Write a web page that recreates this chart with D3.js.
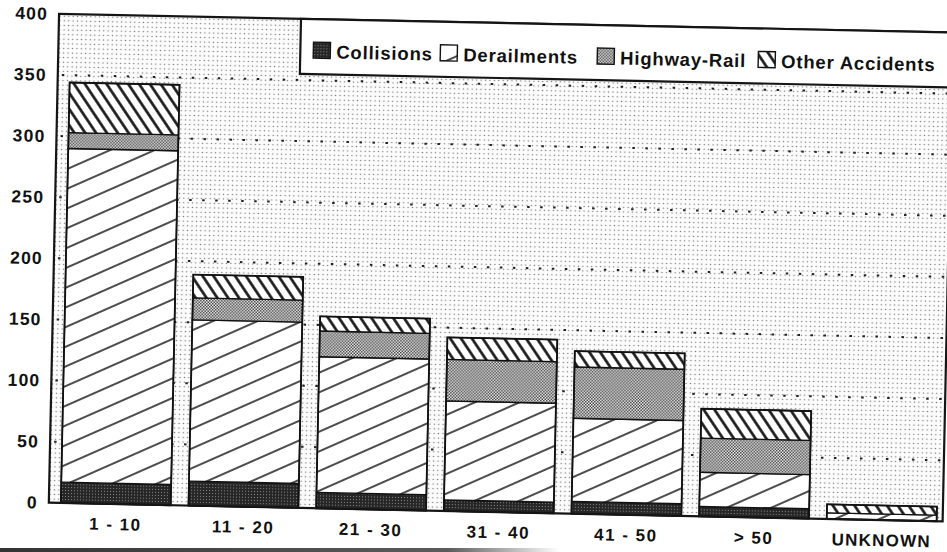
<!DOCTYPE html>
<html>
<head>
<meta charset="utf-8">
<script src="https://cdn.jsdelivr.net/npm/d3@7"></script>
<style>
  html, body { margin: 0; padding: 0; background: #fff; }
  svg { display: block; }
  text { font-family: "Liberation Sans", Arial, Helvetica, sans-serif; font-weight: bold; fill: #111; }
</style>
</head>
<body>
<svg id="chart" width="947" height="552"></svg>
<script>
// Accidents by train length (cars), stacked by accident type
const categories = ["1 - 10", "11 - 20", "21 - 30", "31 - 40", "41 - 50", "> 50", "UNKNOWN"];
const collisions     = [17, 20, 13,  9, 10,  8, 0];
const derailments    = [273, 132, 111, 81, 68, 28, 5];
const highwayRail    = [13, 18, 21, 34, 42, 28, 0];
const otherAccidents = [41, 19, 12, 18, 13, 24, 7];
const seriesNames = ["Collisions", "Derailments", "Highway-Rail", "Other Accidents"];
const yTicks = [0, 50, 100, 150, 200, 250, 300, 350, 400];
const gridTicks = [50, 100, 150, 200, 250, 300, 350];

const table = categories.map((c, i) => ({
  category: c,
  "Collisions": collisions[i],
  "Derailments": derailments[i],
  "Highway-Rail": highwayRail[i],
  "Other Accidents": otherAccidents[i]
}));

const frame = { left: 54, right: 948, top: 23, bottom: 512 };
const svg = d3.select("#chart");
const defs = svg.append("defs");

// ---- fill patterns ----
function hatch(id, spacing, angle, width) {
  const p = defs.append("pattern")
    .attr("id", id)
    .attr("patternUnits", "userSpaceOnUse")
    .attr("width", spacing).attr("height", spacing)
    .attr("patternTransform", `rotate(${angle})`);
  p.append("rect").attr("width", spacing).attr("height", spacing).attr("fill", "#fff");
  p.append("line")
    .attr("x1", -1).attr("x2", spacing + 1)
    .attr("y1", spacing / 2).attr("y2", spacing / 2)
    .attr("stroke", "#111").attr("stroke-width", width);
}
hatch("pat-derail", 18, -25, 1.5);
hatch("pat-other", 9, 55, 2.6);

// dense dark screen for collisions
(function () {
  const p = defs.append("pattern").attr("id", "pat-coll")
    .attr("patternUnits", "userSpaceOnUse").attr("width", 3).attr("height", 3);
  p.append("rect").attr("width", 3).attr("height", 3).attr("fill", "#262626");
  p.append("rect").attr("x", 1).attr("y", 1).attr("width", 1).attr("height", 1).attr("fill", "#8a8a8a");
})();

// medium checker screen for highway-rail
(function () {
  const p = defs.append("pattern").attr("id", "pat-hwy")
    .attr("patternUnits", "userSpaceOnUse").attr("width", 3).attr("height", 3);
  p.append("rect").attr("width", 3).attr("height", 3).attr("fill", "#f6f6f6");
  p.append("rect").attr("x", 0).attr("y", 0).attr("width", 1.5).attr("height", 1.5).attr("fill", "#3a3a3a");
  p.append("rect").attr("x", 1.5).attr("y", 1.5).attr("width", 1.5).attr("height", 1.5).attr("fill", "#3a3a3a");
})();

// light stipple for the plot background
(function () {
  const p = defs.append("pattern").attr("id", "pat-bg")
    .attr("patternUnits", "userSpaceOnUse").attr("width", 4.4).attr("height", 4.6);
  p.append("rect").attr("width", 4.4).attr("height", 4.6).attr("fill", "#fcfcfc");
  p.append("circle").attr("cx", 2.2).attr("cy", 2.3).attr("r", 0.75).attr("fill", "#767676");
})();

const fills = {
  "Collisions": "url(#pat-coll)",
  "Derailments": "url(#pat-derail)",
  "Highway-Rail": "url(#pat-hwy)",
  "Other Accidents": "url(#pat-other)"
};

// ---- scales ----
const x = d3.scaleBand()
  .domain(categories)
  .range([66, 942])
  .paddingInner(0.139)
  .paddingOuter(0);

const y = d3.scaleLinear()
  .domain([0, 400])
  .range([frame.bottom, frame.top]);

// the whole page is set slightly askew
const g = svg.append("g").attr("transform", "rotate(1.2, 497, 260)");

// plot background
g.append("rect")
  .attr("x", frame.left).attr("y", frame.top)
  .attr("width", frame.right - frame.left)
  .attr("height", frame.bottom - frame.top)
  .attr("fill", "url(#pat-bg)");

// dotted gridlines
g.append("g").selectAll("line")
  .data(gridTicks)
  .join("line")
  .attr("x1", frame.left + 4).attr("x2", frame.right)
  .attr("y1", d => y(d)).attr("y2", d => y(d))
  .attr("stroke", "#222")
  .attr("stroke-width", 2)
  .attr("stroke-dasharray", "2.5,10.5");

// stacked bars
const stack = d3.stack().keys(seriesNames);
const layers = stack(table);

const barG = g.append("g");
layers.forEach(layer => {
  barG.append("g")
    .selectAll("rect")
    .data(layer.filter(d => d[1] - d[0] > 0))
    .join("rect")
    .attr("x", d => x(d.data.category))
    .attr("width", x.bandwidth())
    .attr("y", d => y(d[1]))
    .attr("height", d => y(d[0]) - y(d[1]))
    .attr("fill", fills[layer.key])
    .attr("stroke", "#111")
    .attr("stroke-width", 1.4);
});

// bar outlines
const totals = table.map(d => seriesNames.reduce((s, k) => s + d[k], 0));
barG.append("g").selectAll("rect")
  .data(categories)
  .join("rect")
  .attr("x", d => x(d))
  .attr("width", x.bandwidth())
  .attr("y", (d, i) => y(totals[i]))
  .attr("height", (d, i) => y(0) - y(totals[i]))
  .attr("fill", "none")
  .attr("stroke", "#111")
  .attr("stroke-width", 1.8);

// plot frame
g.append("rect")
  .attr("x", frame.left).attr("y", frame.top)
  .attr("width", frame.right - frame.left)
  .attr("height", frame.bottom - frame.top)
  .attr("fill", "none")
  .attr("stroke", "#151515")
  .attr("stroke-width", 2.2);

// y axis labels
const yAxis = d3.axisLeft(y).tickValues(yTicks).tickSize(0).tickPadding(11).tickFormat(d3.format("d"));
const yAxisG = g.append("g").attr("transform", `translate(${frame.left},0)`).call(yAxis);
yAxisG.select(".domain").remove();
yAxisG.selectAll("text")
  .attr("font-size", 17.5)
  .attr("letter-spacing", 1.2)
  .attr("fill", "#111")
  .style("font-family", "'Liberation Sans', Arial, sans-serif")
  .style("font-weight", "bold");

// x axis labels
const xAxis = d3.axisBottom(x).tickSize(0).tickPadding(14);
const xAxisG = g.append("g").attr("transform", `translate(0,${frame.bottom})`).call(xAxis);
xAxisG.select(".domain").remove();
xAxisG.selectAll("text")
  .attr("font-size", d => d === "UNKNOWN" ? 17 : 17)
  .attr("letter-spacing", d => d === "UNKNOWN" ? 1.2 : 1.5)
  .attr("fill", "#111")
  .style("font-family", "'Liberation Sans', Arial, sans-serif")
  .style("font-weight", "bold");

// legend
const legend = g.append("g");
legend.append("rect")
  .attr("x", 296).attr("y", frame.top)
  .attr("width", frame.right - 296)
  .attr("height", 55)
  .attr("fill", "#fff")
  .attr("stroke", "#151515")
  .attr("stroke-width", 2.2);

const legendX = { "Collisions": 309, "Derailments": 436, "Highway-Rail": 593, "Other Accidents": 754 };
seriesNames.forEach(name => {
  const lx = legendX[name];
  legend.append("rect")
    .attr("x", lx).attr("y", 46)
    .attr("width", 17).attr("height", 16)
    .attr("fill", fills[name])
    .attr("stroke", "#111")
    .attr("stroke-width", 1.4);
  legend.append("text")
    .attr("x", lx + 23).attr("y", 62)
    .attr("font-size", 18.5)
    .attr("letter-spacing", 0.8)
    .text(name);
});

// dark page edge along the bottom of the sheet
const edgeGrad = defs.append("linearGradient").attr("id", "edge-fade").attr("x1", 0).attr("x2", 1);
edgeGrad.append("stop").attr("offset", 0).attr("stop-color", "#333").attr("stop-opacity", 1);
edgeGrad.append("stop").attr("offset", 0.8).attr("stop-color", "#333").attr("stop-opacity", 0.8);
edgeGrad.append("stop").attr("offset", 1).attr("stop-color", "#333").attr("stop-opacity", 0);
svg.append("rect")
  .attr("x", 0).attr("y", 548).attr("width", 560).attr("height", 4)
  .attr("fill", "url(#edge-fade)");
</script>
</body>
</html>
